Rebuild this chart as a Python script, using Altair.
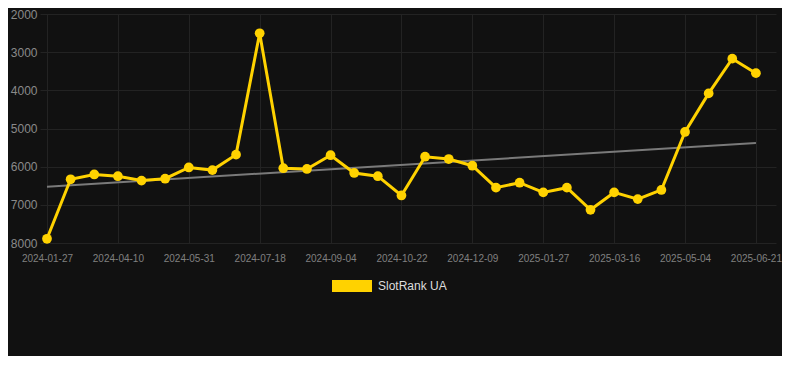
import altair as alt
import pandas as pd

dates = [
    "2024-01-27", "2024-02-20", "2024-03-16", "2024-04-10", "2024-04-27", "2024-05-14",
    "2024-05-31", "2024-06-16", "2024-07-02", "2024-07-18", "2024-08-03", "2024-08-19",
    "2024-09-04", "2024-09-20", "2024-10-06", "2024-10-22", "2024-11-07", "2024-11-23",
    "2024-12-09", "2024-12-25", "2025-01-11", "2025-01-27", "2025-02-12", "2025-02-28",
    "2025-03-16", "2025-04-01", "2025-04-17", "2025-05-04", "2025-05-20", "2025-06-05",
    "2025-06-21",
]
rank = [
    7890, 6330, 6205, 6250, 6365, 6315, 6020, 6090, 5685, 2505, 6040, 6060,
    5700, 6165, 6250, 6755, 5740, 5800, 5975, 6550, 6420, 6675, 6550, 7130,
    6675, 6850, 6610, 5090, 4080, 3170, 3550,
]
trend_idx = [0, 30]
trend_val = [6525, 5380]
label_idx = [0, 3, 6, 9, 12, 15, 18, 21, 24, 27, 30]
y_ticks = [2000, 3000, 4000, 5000, 6000, 7000, 8000]
series = "SlotRank UA"

df = pd.DataFrame({"idx": list(range(len(dates))), "date": dates, "rank": rank, "series": series})
tdf = pd.DataFrame({"idx": trend_idx, "rank": trend_val})

date_arr = "[" + ",".join("'%s'" % d for d in dates) + "]"

x_enc = alt.X(
    "idx:Q",
    scale=alt.Scale(domain=[-0.296, 30.85], nice=False, zero=False),
    axis=alt.Axis(
        values=label_idx,
        labelExpr=date_arr + "[datum.value]",
        title=None,
        grid=True,
        gridColor="#232323",
        domain=False,
        ticks=False,
        labelColor="#808080",
        labelFontSize=10,
        labelPadding=10,
        labelFont="Liberation Sans",
    ),
)
y_scale = alt.Scale(domain=[2000, 8000], reverse=True, nice=False, zero=False)
y_enc = alt.Y(
    "rank:Q",
    scale=y_scale,
    axis=alt.Axis(
        values=y_ticks,
        format="d",
        title=None,
        grid=True,
        gridColor="#232323",
        domain=False,
        ticks=False,
        labelColor="#8a8a8a",
        labelFontSize=12,
        labelPadding=3,
        labelFont="Liberation Sans",
        minExtent=30,
        maxExtent=30,
    ),
)

color = alt.Color(
    "series:N",
    scale=alt.Scale(domain=[series], range=["#FFD200"]),
    legend=alt.Legend(
        title=None,
        orient="none",
        legendX=292,
        legendY=252,
        symbolType="M-1,-0.3H1V0.3H-1Z",
        symbolSize=1600,
        symbolStrokeWidth=0,
        labelColor="#dddddd",
        labelFontSize=12,
        labelFont="Liberation Sans",
        labelOffset=6,
    ),
)

trend = alt.Chart(tdf).mark_line(color="#7a7a7a", strokeWidth=2).encode(x=x_enc, y=y_enc)
line = alt.Chart(df).mark_line(strokeWidth=3).encode(x=x_enc, y=y_enc, color=color)
pts = alt.Chart(df).mark_circle(size=95, opacity=1).encode(x=x_enc, y=y_enc, color=color)

chart = (
    alt.layer(trend, line, pts)
    .properties(
        width=736,
        height=229,
        background="#111111",
        padding={"left": 2, "top": 0, "right": 0, "bottom": 64},
    )
    .configure_view(stroke=None)
)

chart.save("out.html", embed_options={"renderer": "svg", "actions": False})
